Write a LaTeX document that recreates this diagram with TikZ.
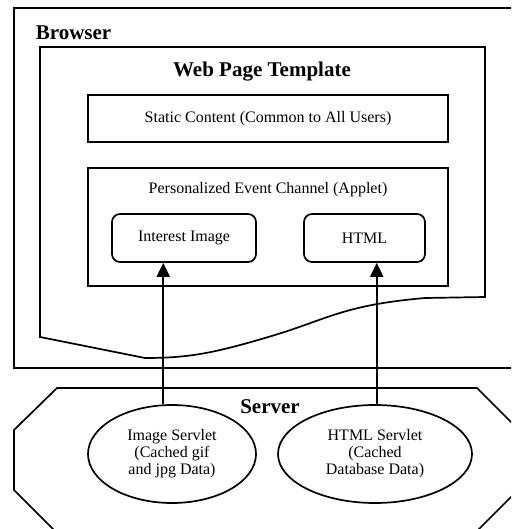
\documentclass[tikz,border=0pt]{standalone}
\usepackage{fontspec}
\setmainfont{Liberation Serif}
\usetikzlibrary{shapes.geometric,arrows.meta,positioning}
\begin{document}
\begin{tikzpicture}[x=1pt, y=-1pt, line width=1.7pt,
    txt/.style={font=\fontsize{16}{17}\selectfont},
    box/.style={txt, draw, rectangle, inner sep=0pt},
    rbox/.style={box, rounded corners=8pt, minimum height=48pt},
    servlet/.style={txt, draw, ellipse, inner sep=0pt, align=center,
        minimum width=168pt, minimum height=98pt},
    title/.style={font=\fontsize{21}{23}\selectfont\bfseries, inner sep=0pt},
    arr/.style={line width=2pt, -{Triangle[length=14pt,width=13pt]}}]
    \useasboundingbox (0,0) rectangle (511,529);
    \clip (0,0) rectangle (511,529);

    % browser window
    \draw (14,8) rectangle (516,368);
    \node[title, anchor=west] (browser) at (35,33) {Browser};

    % page template, torn at the bottom
    \draw (40,337) -- (40,47) -- (485,47) -- (485,297) -- (425,298)
        .. controls (345,305) and (330,318) .. (275,335)
        .. controls (215,353) and (190,358) .. (145,358) -- cycle;
    \node[title] (template) at (262,72) {Web Page Template};

    % page parts
    \node[box, minimum width=360pt, minimum height=47pt] (static) at (268,118.5)
        {Static Content (Common to All Users)};
    \node[box, minimum width=360pt, minimum height=118pt] (applet) at (268,227) {};
    \node[txt, below=11pt of applet.north] (appletlabel) {Personalized Event Channel (Applet)};
    \node[rbox, minimum width=144pt] (interest) at (184,238) {Interest Image};
    \node[rbox, minimum width=121pt] (html) at (364.5,238) {HTML};

    % server
    \draw (57,388) -- (477,388) -- (520,431) -- (520,488) -- (477,531)
        -- (55,531) -- (14,490) -- (14,430) -- cycle;
    \node[title] (server) at (270,407) {Server};
    \node[servlet] (imgservlet) at (172,454) {Image Servlet\\(Cached gif\\and jpg Data)};
    \node[servlet, minimum width=194pt] (htmlservlet) at (375,454)
        {HTML Servlet\\(Cached\\Database Data)};

    % servlets feed the page
    \draw[arr] (imgservlet.100) -- (imgservlet.100 |- interest.south);
    \draw[arr] (htmlservlet.88) -- (htmlservlet.88 |- html.south);
\end{tikzpicture}
\end{document}
